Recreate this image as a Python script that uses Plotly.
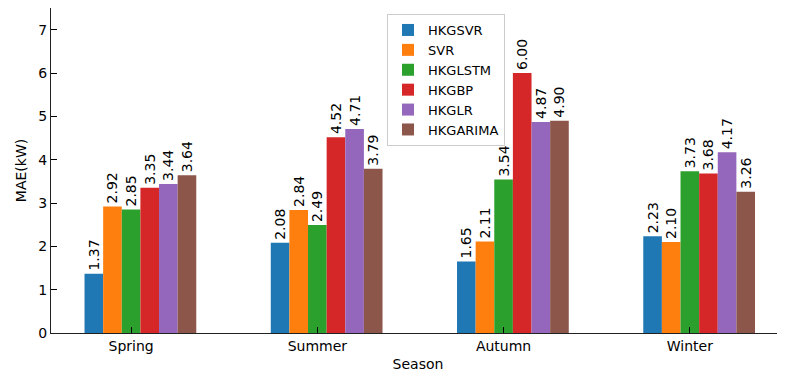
import plotly.graph_objects as go

seasons = ["Spring", "Summer", "Autumn", "Winter"]
models = ["HKGSVR", "SVR", "HKGLSTM", "HKGBP", "HKGLR", "HKGARIMA"]
colors = ["#1f77b4", "#ff7f0e", "#2ca02c", "#d62728", "#9467bd", "#8c564b"]
hkgsvr = [1.37, 2.08, 1.65, 2.23]
svr = [2.92, 2.84, 2.11, 2.10]
hkglstm = [2.85, 2.49, 3.54, 3.73]
hkgbp = [3.35, 4.52, 6.00, 3.68]
hkglr = [3.44, 4.71, 4.87, 4.17]
hkgarima = [3.64, 3.79, 4.90, 3.26]
series = [hkgsvr, svr, hkglstm, hkgbp, hkglr, hkgarima]

bar_w = 0.1
offsets = [-0.2, -0.1, 0.0, 0.1, 0.2, 0.3]
FONT = "DejaVu Sans"

fig = go.Figure()
for name, vals, col, off in zip(models, series, colors, offsets):
    fig.add_trace(go.Bar(
        x=[i + off for i in range(len(seasons))],
        y=vals,
        width=bar_w,
        name=name,
        marker=dict(color=col, line=dict(width=0)),
        text=[f"{v:.2f}" for v in vals],
        textposition="outside",
        textangle=-90,
        constraintext="none",
        cliponaxis=False,
        textfont=dict(family=FONT, size=14, color="black"),
    ))

# page body has an 8px default margin; compensate in figure size/margins
fig.update_layout(
    width=777, height=370,
    margin=dict(l=43, r=0, t=0, b=45),
    paper_bgcolor="white", plot_bgcolor="white",
    barmode="overlay",
    font=dict(family=FONT, size=14, color="black"),
    showlegend=True,
    legend=dict(
        x=0.4578, y=0.9815, xanchor="left", yanchor="top",
        bordercolor="#cccccc", borderwidth=1, bgcolor="rgba(255,255,255,0.8)",
        font=dict(family=FONT, size=13, color="black"),
        tracegroupgap=0, itemwidth=30,
    ),
    xaxis=dict(
        range=[-0.43, 3.511], automargin=False,
        tickmode="array", tickvals=list(range(len(seasons))), ticktext=seasons,
        ticks="inside", ticklen=6, tickwidth=1, tickcolor="black",
        tickfont=dict(family=FONT, size=14),
        showline=True, linecolor="#222222", linewidth=1.3, mirror=True,
        showgrid=False, zeroline=False,
        title=dict(text="Season", font=dict(family=FONT, size=14), standoff=6),
    ),
    yaxis=dict(
        range=[0, 7.5], automargin=False,
        tickmode="array", tickvals=list(range(8)),
        ticks="inside", ticklen=6, tickwidth=1, tickcolor="black",
        tickfont=dict(family=FONT, size=14),
        showline=True, linecolor="#222222", linewidth=1.3,
        showgrid=False, zeroline=False,
        title=dict(text="MAE(kW)", font=dict(family=FONT, size=14), standoff=8),
    ),
)

fig.write_html("out.html")
